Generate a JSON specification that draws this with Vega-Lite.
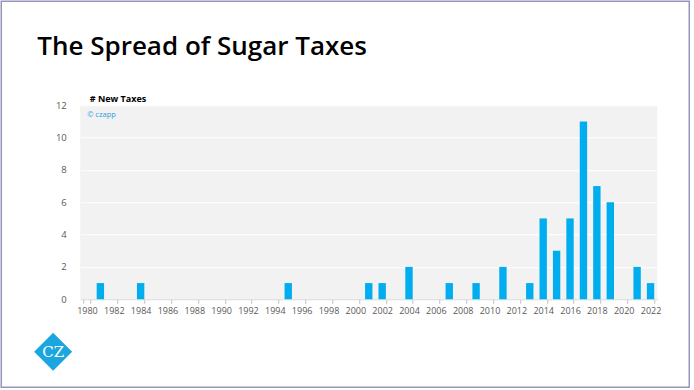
{
  "$schema": "https://vega.github.io/schema/vega-lite/v6.json",
  "width": 577,
  "height": 194,
  "autosize": {"type": "pad"},
  "padding": {"left": 0.25, "top": 0.25, "right": 0, "bottom": 0},
  "background": "white",
  "config": {
    "font": "Open Sans",
    "view": {"fill": "#f2f2f2", "stroke": null}
  },
  "title": {
    "text": "The Spread of Sugar Taxes",
    "anchor": "start",
    "frame": "group",
    "dx": -43,
    "fontSize": 26,
    "fontWeight": 600,
    "font": "Open Sans",
    "color": "#000000",
    "offset": -60
  },
  "layer": [
    {
      "data": {
        "values": [
          {"year": 1981, "taxes": 1},
          {"year": 1984, "taxes": 1},
          {"year": 1995, "taxes": 1},
          {"year": 2001, "taxes": 1},
          {"year": 2002, "taxes": 1},
          {"year": 2004, "taxes": 2},
          {"year": 2007, "taxes": 1},
          {"year": 2009, "taxes": 1},
          {"year": 2011, "taxes": 2},
          {"year": 2013, "taxes": 1},
          {"year": 2014, "taxes": 5},
          {"year": 2015, "taxes": 3},
          {"year": 2016, "taxes": 5},
          {"year": 2017, "taxes": 11},
          {"year": 2018, "taxes": 7},
          {"year": 2019, "taxes": 6},
          {"year": 2021, "taxes": 2},
          {"year": 2022, "taxes": 1}
        ]
      },
      "mark": {"type": "bar", "color": "#00AEEF"},
      "encoding": {
        "x": {
          "field": "year",
          "type": "ordinal",
          "scale": {
            "domain": [1980,1981,1982,1983,1984,1985,1986,1987,1988,1989,1990,1991,1992,1993,1994,1995,1996,1997,1998,1999,2000,2001,2002,2003,2004,2005,2006,2007,2008,2009,2010,2011,2012,2013,2014,2015,2016,2017,2018,2019,2020,2021,2022],
            "paddingInner": 0.45,
            "paddingOuter": 0.225
          },
          "axis": {
            "title": null,
            "values": [1980,1982,1984,1986,1988,1990,1992,1994,1996,1998,2000,2002,2004,2006,2008,2010,2012,2014,2016,2018,2020,2022],
            "tickBand": "extent",
            "labelAngle": 0,
            "labelFontSize": 9,
            "labelColor": "#595959",
            "labelPadding": 3,
            "tickColor": "#bfbfbf",
            "tickSize": 4,
            "domainColor": "#d9d9d9",
            "grid": false
          }
        },
        "y": {
          "field": "taxes",
          "type": "quantitative",
          "scale": {"domain": [0, 12], "nice": false},
          "axis": {
            "title": "# New Taxes",
            "titleAngle": 0,
            "titleAlign": "left",
            "titleBaseline": "alphabetic",
            "titleX": 9,
            "titleY": -4,
            "titleFontSize": 9,
            "titleFontWeight": "bold",
            "titleColor": "#000000",
            "values": [0, 2, 4, 6, 8, 10, 12],
            "labelFontSize": 9.5,
            "labelColor": "#595959",
            "labelPadding": 14,
            "ticks": false,
            "domain": false,
            "grid": true,
            "gridColor": "#ffffff",
            "gridWidth": 1
          }
        }
      }
    },
    {
      "layer": [
        {
          "data": {"values": [{"label": "© czapp"}]},
          "mark": {"type": "text", "align": "left", "baseline": "middle", "fontSize": 7.5, "color": "#2c9fd9"},
          "encoding": {
            "x": {"datum": 0.012, "type": "quantitative", "scale": {"domain": [0, 1], "nice": false, "zero": false}, "axis": null},
            "y": {"datum": 0.948, "type": "quantitative", "scale": {"domain": [0, 1], "nice": false, "zero": false}, "axis": null},
            "text": {"field": "label"}
          }
        },
        {
          "data": {"values": [{"label": "frame"}]},
          "mark": {"type": "rect", "fill": null, "stroke": "#9595bd", "strokeWidth": 1.5, "clip": false},
          "encoding": {
            "x": {"datum": -0.1369, "type": "quantitative"},
            "x2": {"datum": 1.0555},
            "y": {"datum": 1.5361, "type": "quantitative"},
            "y2": {"datum": -0.4536}
          }
        },
        {
          "data": {"values": [{"label": "CZ"}]},
          "mark": {"type": "point", "shape": "diamond", "filled": true, "size": 1444, "color": "#1ba6e0", "opacity": 1, "clip": false},
          "encoding": {
            "x": {"datum": -0.047, "type": "quantitative"},
            "y": {"datum": -0.27, "type": "quantitative"}
          }
        },
        {
          "data": {"values": [{"label": "CZ"}]},
          "mark": {"type": "text", "align": "center", "baseline": "middle", "font": "DejaVu Serif", "fontSize": 15, "color": "#ffffff"},
          "encoding": {
            "x": {"datum": -0.047, "type": "quantitative"},
            "y": {"datum": -0.27, "type": "quantitative"},
            "text": {"field": "label"}
          }
        }
      ]
    }
  ],
  "resolve": {"scale": {"x": "independent", "y": "independent"}}
}
